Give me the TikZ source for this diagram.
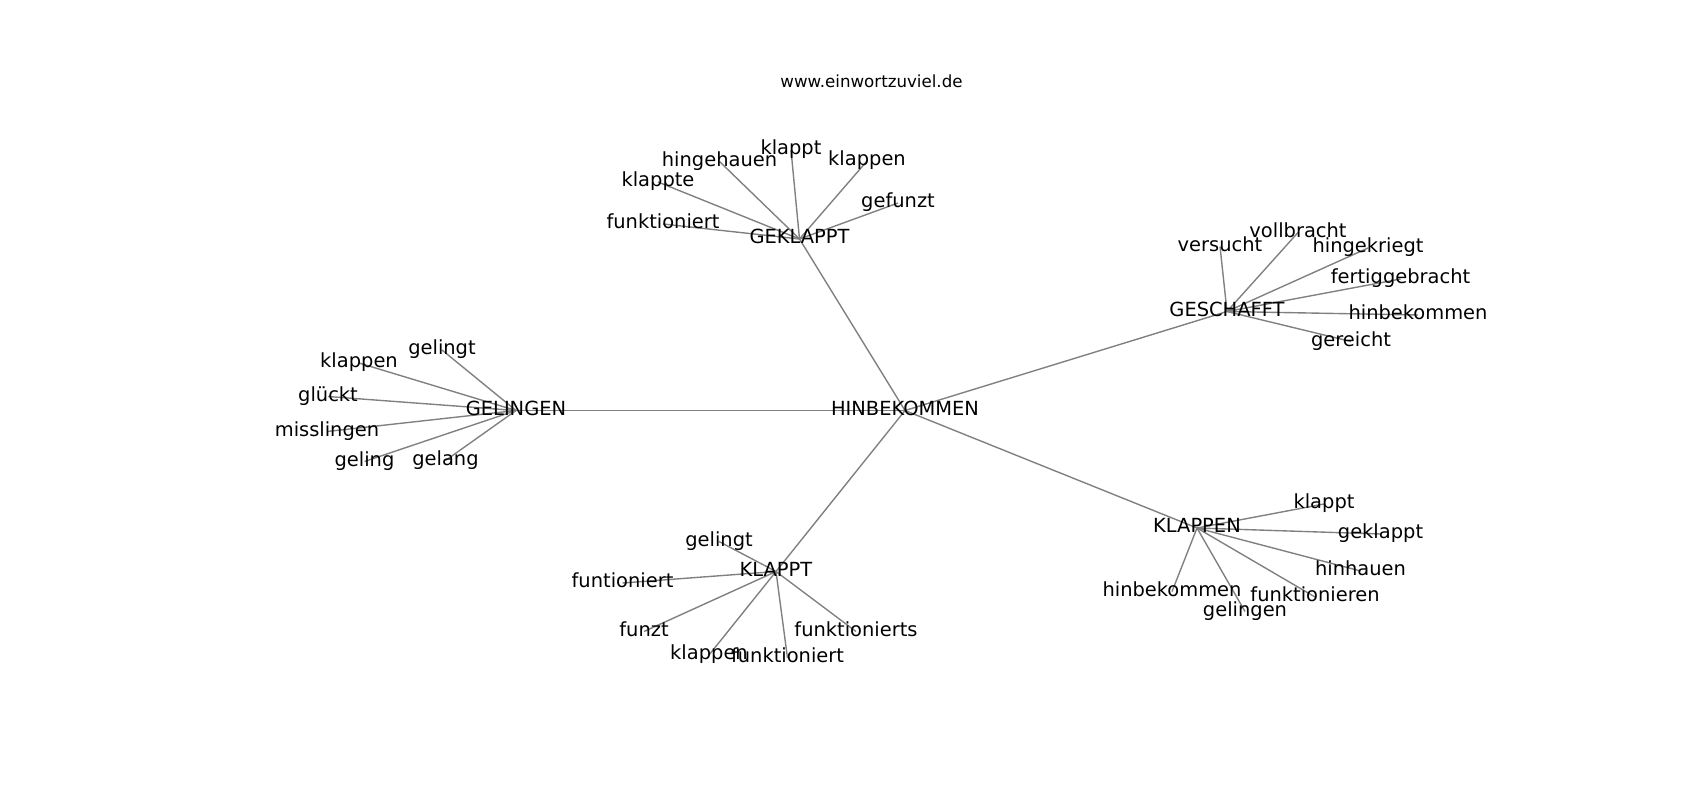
\documentclass[tikz,border=0pt]{standalone}
\usepackage{fontspec}
\setmainfont{DejaVu Sans}
\usetikzlibrary{backgrounds}
\begin{document}
\begin{tikzpicture}[x=0.72pt,y=-0.72pt,
  word/.style={inner sep=0pt,outer sep=0pt,text height=10.6pt,text depth=3.6pt,anchor=center,font=\fontsize{14}{17}\selectfont,text=black},
  link/.style={draw={rgb,255:red,128;green,128;blue,128},line width=1pt}]
\useasboundingbox (0,0) rectangle (1700,800);
% title
\node[inner sep=0pt,anchor=base,font=\fontsize{12}{14}\selectfont] (title) at (871.5,87.5) {www.einwortzuviel.de};
% hubs
\node[word] (h) at (905,410.5) {HINBEKOMMEN};
\node[word] (gk) at (799.5,239) {GEKLAPPT};
\node[word] (gs) at (1227,311.5) {GESCHAFFT};
\node[word] (gl) at (516,410.5) {GELINGEN};
\node[word] (kn) at (1197,528) {KLAPPEN};
\node[word] (kt) at (776,571.5) {KLAPPT};
% GEKLAPPT leaves
\node[word] (gk1) at (663,224) {funktioniert};
\node[word] (gk2) at (658,182) {klappte};
\node[word] (gk3) at (719.5,161.5) {hingehauen};
\node[word] (gk4) at (791,150) {klappt};
\node[word] (gk5) at (867,161) {klappen};
\node[word] (gk6) at (898,203) {gefunzt};
% GESCHAFFT leaves
\node[word] (gs1) at (1220,246.5) {versucht};
\node[word] (gs2) at (1298,232.5) {vollbracht};
\node[word] (gs3) at (1368,248) {hingekriegt};
\node[word] (gs4) at (1400.5,279) {fertiggebracht};
\node[word] (gs5) at (1418,315) {hinbekommen};
\node[word] (gs6) at (1351,341.5) {gereicht};
% GELINGEN leaves
\node[word] (gl1) at (442,350) {gelingt};
\node[word] (gl2) at (359,363) {klappen};
\node[word] (gl3) at (328,396.5) {glückt};
\node[word] (gl4) at (327,431.5) {misslingen};
\node[word] (gl5) at (364.5,461.5) {geling};
\node[word] (gl6) at (445.5,460.5) {gelang};
% KLAPPEN leaves
\node[word] (kn1) at (1324,504) {klappt};
\node[word] (kn2) at (1380.5,534) {geklappt};
\node[word] (kn3) at (1360.5,571) {hinhauen};
\node[word] (kn4) at (1315,597) {funktionieren};
\node[word] (kn5) at (1245,611.5) {gelingen};
\node[word] (kn6) at (1172,591.5) {hinbekommen};
% KLAPPT leaves
\node[word] (kt1) at (719,541.5) {gelingt};
\node[word] (kt2) at (622.5,583) {funtioniert};
\node[word] (kt3) at (644,631.5) {funzt};
\node[word] (kt4) at (709,655) {klappen};
\node[word] (kt5) at (787.5,658) {funktioniert};
\node[word] (kt6) at (856,631.5) {funktionierts};
\begin{pgfonlayer}{background}
\foreach \a in {gk,gs,gl,kn,kt} \draw[link] (h.center) -- (\a.center);
\foreach \a in {1,...,6} {
  \draw[link] (gk.center) -- (gk\a.center);
  \draw[link] (gs.center) -- (gs\a.center);
  \draw[link] (gl.center) -- (gl\a.center);
  \draw[link] (kn.center) -- (kn\a.center);
  \draw[link] (kt.center) -- (kt\a.center);
}
\end{pgfonlayer}
\end{tikzpicture}
\end{document}
